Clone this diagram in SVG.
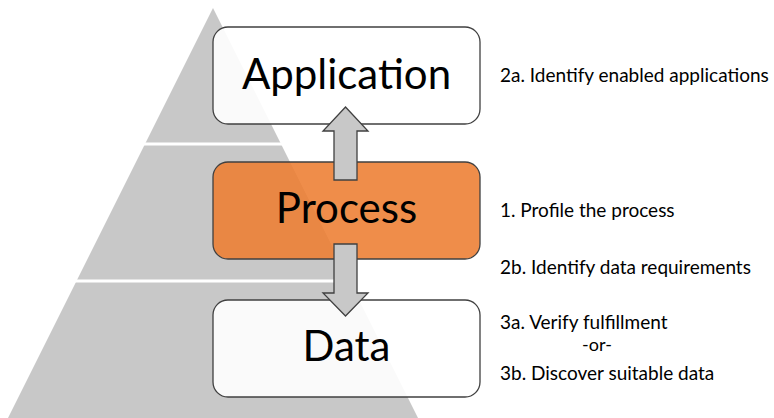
<svg xmlns="http://www.w3.org/2000/svg" width="774" height="418" viewBox="0 0 774 418">
<style>
.box{stroke:#404040;stroke-width:1.3}
.wbox{fill:#ffffff;fill-opacity:0.9}
.obox{fill:#ED7D31;fill-opacity:0.88}
.arrow{fill:#c8c8c8;stroke:#404040;stroke-width:1.3;stroke-linejoin:miter}
.big{font-family:Lato,"Liberation Sans",sans-serif;font-size:42px;fill:#000;text-anchor:middle}
.note{font-family:Lato,"Liberation Sans",sans-serif;font-size:19px;fill:#000}
</style>
<rect width="774" height="418" fill="#ffffff"/>
<g id="pyramid">
<polygon points="213,8 8,418 418,418" fill="#c8c8c8"/>
<rect x="0" y="142.5" width="420" height="3" fill="#ffffff"/>
<rect x="0" y="279.5" width="420" height="3" fill="#ffffff"/>
</g>
<g id="node-application">
<rect class="box wbox" x="213" y="27" width="267" height="97" rx="15"/>
<text class="big" x="346.5" y="89">Application</text>
</g>
<g id="node-process">
<rect class="box obox" x="213" y="162" width="267" height="97" rx="15"/>
<text class="big" x="346.5" y="223">Process</text>
</g>
<g id="node-data">
<rect class="box wbox" x="213" y="300" width="267" height="97" rx="15"/>
<text class="big" x="346.5" y="361">Data</text>
</g>
<g id="connectors">
<polygon class="arrow" points="345.5,107 368,131 357,131 357,180 334,180 334,131 323,131"/>
<polygon class="arrow" points="334,244 357,244 357,293 368,293 345.5,316 323,293 334,293"/>
</g>
<g id="notes">
<text class="note" x="500" y="82">2a. Identify enabled applications</text>
<text class="note" x="500" y="217">1. Profile the process</text>
<text class="note" x="500" y="274">2b. Identify data requirements</text>
<text class="note" x="500" y="329">3a. Verify fulfillment</text>
<text class="note" x="597" y="351" text-anchor="middle" style="font-size:18px">-or-</text>
<text class="note" x="500" y="380">3b. Discover suitable data</text>
</g>
</svg>
